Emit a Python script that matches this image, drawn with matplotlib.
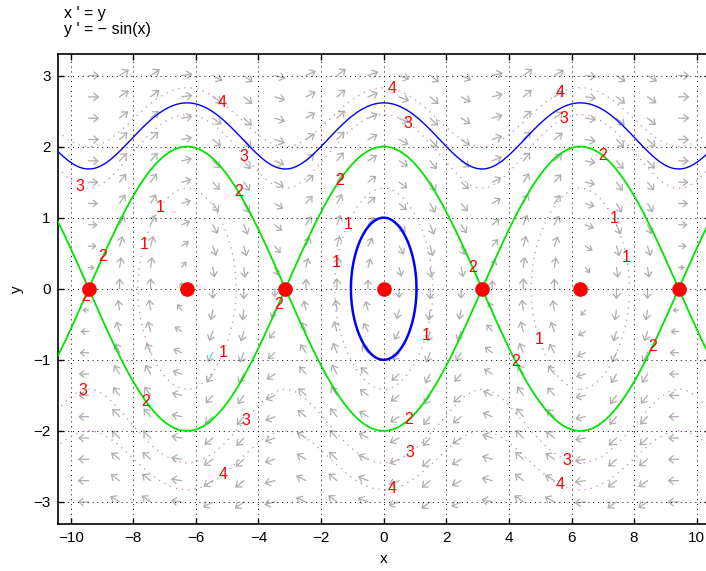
import numpy as np
import matplotlib.pyplot as plt
from matplotlib.patches import FancyArrowPatch

plt.rcParams["font.family"] = ["Liberation Sans", "DejaVu Sans"]
plt.rcParams["font.size"] = 11

# phase plane window
x_window = [-10.415, 10.415]
y_window = [-3.31, 3.31]
x_ticks = [-10, -8, -6, -4, -2, 0, 2, 4, 6, 8, 10]
y_ticks = [-3, -2, -1, 0, 1, 2, 3]

# direction field grid (arrow tails)
arrow_x = np.linspace(-9.43, 9.42, 20)
arrow_y = np.linspace(-3.0, 3.0, 21)

# level curves of H(x, y) = y^2/2 + 1 - cos(x)
levels = [1, 2, 3, 4]
label_pos = [
    (-7.16, 1.14), (-7.70, 0.62), (-1.15, 0.91), (-1.53, 0.37), (1.37, -0.66),
    (-5.18, -0.88), (4.95, -0.72), (7.28, 0.97), (7.73, 0.44),
    (-9.01, 0.46), (-9.49, -0.11), (-4.66, 1.36), (-1.41, 1.53), (-3.39, -0.22),
    (2.81, 0.29), (4.19, -1.03), (0.77, -1.83), (-7.60, -1.59), (6.96, 1.85),
    (8.56, -0.81),
    (-9.71, 1.43), (-4.50, 1.85), (0.77, 2.32), (5.75, 2.40), (-9.62, -1.43),
    (-4.44, -1.84), (0.83, -2.30), (5.85, -2.40),
    (-5.18, 2.61), (0.26, 2.78), (5.65, 2.75), (-5.18, -2.58), (0.26, -2.79),
    (5.65, -2.75),
]

# solution curves drawn in the picture, given by their H value
h_separatrix = 2.0
h_rotating = 3.42
h_inner = 0.5
equilibria_x = [k * np.pi for k in range(-3, 4)]
equilibria_y = [0] * 7


def hamiltonian(x, y):
    return 0.5 * y**2 + 1 - np.cos(x)


fig = plt.figure(figsize=(7.06, 5.71), dpi=100)
ax = fig.add_axes([57.7 / 706, 47 / 571, 652 / 706, 470.5 / 571])
ax.set_xlim(x_window)
ax.set_ylim(y_window)

# pixels per data unit
sx = 652 / (x_window[1] - x_window[0])
sy = 470.5 / (y_window[1] - y_window[0])

# direction field
for xa in arrow_x:
    for ya in arrow_y:
        u, v = ya, -np.sin(xa)
        m = np.hypot(u * sx, v * sy)
        if m < 1e-6:
            continue
        L = 12.0 * m / (m + 9.0)
        tip = (xa + L * u / m, ya + L * v / m)
        Lpt = L * 0.72
        style = f"->,head_length={0.42 * Lpt:.3f},head_width={0.34 * Lpt:.3f}"
        ax.add_patch(FancyArrowPatch((xa, ya), tip, arrowstyle=style,
                                     mutation_scale=1, color="#adadad",
                                     lw=0.9, shrinkA=0, shrinkB=0, zorder=1))

# level curves
gx = np.linspace(x_window[0], x_window[1], 900)
gy = np.linspace(y_window[0], y_window[1], 500)
GX, GY = np.meshgrid(gx, gy)
H = hamiltonian(GX, GY)
cs = ax.contour(GX, GY, H, levels=levels, colors="#c77fc7", linewidths=0.9, zorder=2)
cs.set_linestyle((0, (1, 4)))
ax.clabel(cs, manual=label_pos, inline=True, inline_spacing=2, fmt="%g",
          colors="r", fontsize=11.5, zorder=6)
for t in cs.labelTexts:
    t.set_rotation(0)

# separatrix
ax.contour(GX, GY, H, levels=[h_separatrix], colors=[(0, 0.9, 0)], linewidths=1.3, zorder=3)

# rotating orbit (upper half only)
uy = np.linspace(0, y_window[1], 300)
UX, UY = np.meshgrid(gx, uy)
ax.contour(UX, UY, hamiltonian(UX, UY), levels=[h_rotating], colors="b",
           linewidths=1.0, zorder=3)

# closed orbit around the origin
cx = np.linspace(-2, 2, 300)
cy = np.linspace(-1.6, 1.6, 300)
CX, CY = np.meshgrid(cx, cy)
ax.contour(CX, CY, hamiltonian(CX, CY), levels=[h_inner], colors="b",
           linewidths=1.8, zorder=3)

# equilibria
ax.plot(equilibria_x, equilibria_y, "o", color="r", ms=9.5, zorder=5)

ax.set_xticks(x_ticks)
ax.set_yticks(y_ticks)
ax.tick_params(direction="in", top=True, right=True, length=4, width=1,
               labelsize=11, pad=5)
ax.grid(True, color="k", linestyle=(0, (1, 4)), linewidth=0.7)
for s in ax.spines.values():
    s.set_linewidth(1.2)
ax.set_xlabel("x", labelpad=5)
ax.set_ylabel("y", labelpad=7)

fig.text(64 / 706, 1 - 18 / 571, "x ' = y", fontsize=11.5, va="baseline")
fig.text(64 / 706, 1 - 34 / 571, "y ' = \u2212 sin(x)", fontsize=11.5, va="baseline")

fig.savefig("out.png", dpi=100)
